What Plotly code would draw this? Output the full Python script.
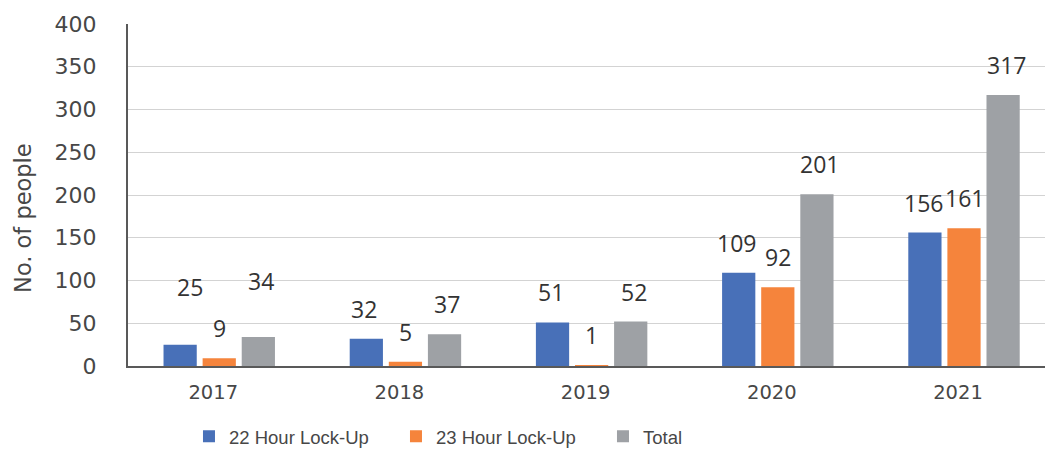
import plotly.graph_objects as go

years = ["2017", "2018", "2019", "2020", "2021"]
lock22 = [25, 32, 51, 109, 156]
lock23 = [9, 5, 1, 92, 161]
total = [34, 37, 52, 201, 317]
series_names = ["22 Hour Lock-Up", "23 Hour Lock-Up", "Total"]
y_ticks = [0, 50, 100, 150, 200, 250, 300, 350, 400]
y_title = "No. of people"

colors = ["#4870B8", "#F5843C", "#9EA1A5"]
AXFONT = "DejaVu Sans, sans-serif"
LBLFONT = "Open Sans, sans-serif"
LEGFONT = "Liberation Sans, Arial, sans-serif"
TXT = "#474747"

fig = go.Figure()
all_series = [lock22, lock23, total]
for name, vals, col in zip(series_names, all_series, colors):
    fig.add_trace(go.Bar(x=years, y=vals, name=name, marker=dict(color=col, line=dict(width=0))))

# data labels positioned above bars
xshifts = [-41, 0, 42]
extra = {(0, 0): (12, 58), (2, 0): (0, 56)}  # (series, year) -> (xshift add, yshift)
for si, vals in enumerate(all_series):
    for yi, v in enumerate(vals):
        dx, dy = extra.get((si, yi), (0, 30))
        fig.add_annotation(x=yi, y=v, xref="x", yref="y", text=str(v),
                           showarrow=False, xshift=xshifts[si] + dx, yshift=dy,
                           yanchor="middle", font=dict(family=LBLFONT, size=23, color="#333333"))

# y-axis title
fig.add_annotation(x=-0.1145, y=0.433, xref="paper", yref="paper", text=y_title,
                   textangle=-90, showarrow=False, xanchor="center", yanchor="middle",
                   font=dict(family=AXFONT, size=22.5, color=TXT))

fig.update_layout(
    width=1045, height=449,
    margin=dict(l=128, r=0, t=24, b=83, autoexpand=False),
    plot_bgcolor="white", paper_bgcolor="white",
    barmode="group", bargap=0.37, bargroupgap=0.15,
    font=dict(family=AXFONT, size=20, color=TXT),
    legend=dict(orientation="h", x=0.0665, xanchor="left", y=-0.207, yanchor="middle",
                font=dict(family=LEGFONT, size=18.5, color=TXT), itemwidth=30,
                entrywidth=162, traceorder="normal"),
    showlegend=True,
)
fig.update_xaxes(type="category", range=[-0.49, 4.435], showline=True, linecolor="#595959",
                 linewidth=2, ticks="", showgrid=False, automargin=False, ticklabelstandoff=8,
                 ticklabelshift=-6, tickfont=dict(family=AXFONT, size=19.5, color=TXT))
fig.update_yaxes(range=[0, 400], tickvals=y_ticks, showline=True, linecolor="#595959", linewidth=2,
                 gridcolor="#D3D3D3", gridwidth=1, zeroline=False, ticks="", automargin=False,
                 ticklabelstandoff=25, tickfont=dict(family=AXFONT, size=22, color=TXT))

fig.write_html("out.html", config={"displayModeBar": False},
               post_script="document.body.style.margin='0px';")
